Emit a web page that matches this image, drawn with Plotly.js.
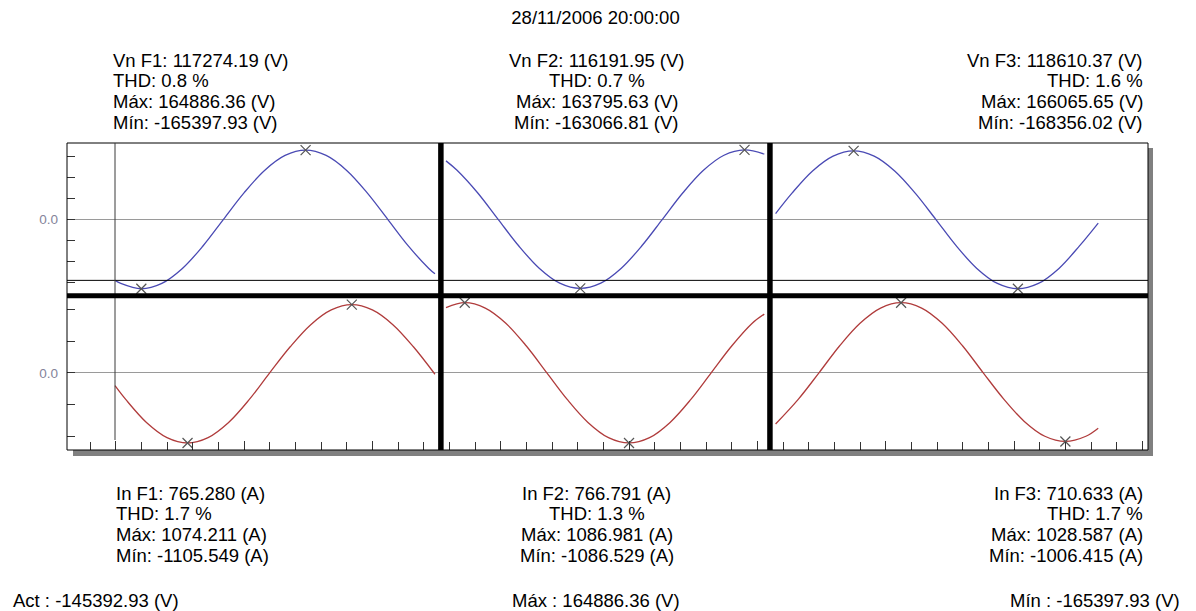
<!DOCTYPE html>
<html>
<head>
<meta charset="utf-8">
<script src="https://cdn.plot.ly/plotly-3.0.1.min.js"></script>
<style>
html, body { margin: 0; padding: 0; background: #fff; }
#chart { width: 1196px; height: 611px; }
</style>
</head>
<body>
<div id="chart"></div>
<script>
// Record timestamp and phase names
const stamp = '28/11/2006 20:00:00';
const phases = ['F1', 'F2', 'F3'];

// Voltage summary per phase (V)
const vRms = [117274.19, 116191.95, 118610.37];
const vThd = [0.8, 0.7, 1.6];
const vMax = [164886.36, 163795.63, 166065.65];
const vMin = [-165397.93, -163066.81, -168356.02];

// Current summary per phase (A)
const iRms = [765.280, 766.791, 710.633];
const iThd = [1.7, 1.3, 1.7];
const iMax = [1074.211, 1086.981, 1028.587];
const iMin = [-1105.549, -1086.529, -1006.415];

// Cursor reading on the F1 voltage trace
const cursorValue = -145392.93;

// Waveforms: x = sample number on the shared time base (128 samples per cycle)
const f1Vx = [9.74, 12, 20, 28, 36, 44, 52, 60, 68, 76, 84, 92, 100, 108, 116, 124, 132, 134.4];
const f1Vy = [-145392.93, -152800, -165397.93, -152600, -117000, -63500, 0, 63000, 116500, 152300, 164886.36, 152300, 116600, 63100, 0, -63300, -117000, -129900];
const f1Ix = [9.74, 14, 22, 30, 38, 46, 54, 62, 70, 78, 86, 94, 102, 110, 118, 126, 134.4];
const f1Iy = [-202, -423, -782, -1021, -1105.549, -1021, -782, -423, 0, 411, 760, 992, 1074.211, 992, 760, 411, -22];

const f2Vx = [138.7, 143, 151, 159, 167, 175, 183, 191, 199, 207, 215, 223, 231, 239, 247, 255, 262.7];
const f2Vy = [138000, 115800, 62700, 0, -62400, -115300, -150700, -163066.81, -150700, -115300, -62400, 0, 62700, 115800, 151300, 163795.63, 154000];
const f2Ix = [138.7, 146, 154, 162, 170, 178, 186, 194, 202, 210, 218, 226, 234, 242, 250, 258, 262.7];
const f2Iy = [1010, 1086.981, 1004, 769, 416, 0, -416, -768, -1004, -1086.529, -1004, -768, -416, 0, 416, 769, 910];

const f3Vx = [267.1, 273.5, 281.5, 289.5, 297.5, 305.5, 313.5, 321.5, 329.5, 337.5, 345.5, 353.5, 361.5, 369.5, 377.5, 385.5, 392.8];
const f3Vy = [14000, 63600, 117400, 153400, 166065.65, 153400, 117400, 63600, 0, -64400, -119000, -155500, -168356.02, -155500, -119000, -64400, -9000];
const f3Ix = [267.1, 276, 284, 292, 300, 308, 316, 324, 332, 340, 348, 356, 364, 372, 380, 388, 392.8];
const f3Iy = [-750, -385, 0, 394, 727, 950, 1028.587, 950, 727, 394, 0, -385, -712, -930, -1006.415, -930, -812];

// Column boundaries on the shared time base
const colEdges = [136.7, 264.9];

// ---- page geometry (pixels) ----
const L = 67, T = 143, W = 1081, H = 307;
const px = x => (x - L) / W;
const py = y => (T + H - y) / H;
const split = py(295.7);

const FONT = '"Liberation Sans", Arial, sans-serif';
const TXT = 18.5;
const BLUE = '#4a4ab4', RED = '#b03c3c';

const voltX = [f1Vx, f2Vx, f3Vx], voltY = [f1Vy, f2Vy, f3Vy];
const currX = [f1Ix, f2Ix, f3Ix], currY = [f1Iy, f2Iy, f3Iy];
const vAxes = ['y', 'y2', 'y3'], iAxes = ['y4', 'y5', 'y6'];

const traces = [];
function addWave(xs, ys, yaxis, color) {
  traces.push({
    type: 'scatter', mode: 'lines', x: xs, y: ys, xaxis: 'x', yaxis: yaxis,
    line: { color: color, width: 1.3, shape: 'spline', smoothing: 1 },
    hoverinfo: 'skip'
  });
  // cross marks on the extreme samples
  let iMaxIdx = 0, iMinIdx = 0;
  ys.forEach((v, k) => { if (v > ys[iMaxIdx]) iMaxIdx = k; if (v < ys[iMinIdx]) iMinIdx = k; });
  traces.push({
    type: 'scatter', mode: 'markers',
    x: [xs[iMaxIdx], xs[iMinIdx]], y: [ys[iMaxIdx], ys[iMinIdx]],
    xaxis: 'x', yaxis: yaxis,
    marker: { symbol: 'x-thin', size: 10, color: '#555', line: { width: 1.2, color: '#555' } },
    hoverinfo: 'skip'
  });
}
for (let p = 0; p < 3; p++) {
  addWave(voltX[p], voltY[p], vAxes[p], BLUE);
  addWave(currX[p], currY[p], iAxes[p], RED);
}

// each phase column is scaled to its own peak
const vRange = vMax.map((m, p) => 1.1 * Math.max(Math.abs(m), Math.abs(vMin[p])));
const iRange = iMax.map((m, p) => 1.1 * Math.max(Math.abs(m), Math.abs(iMin[p])));

const tickStyle = {
  ticks: 'inside', ticklen: 8, tickwidth: 1, tickcolor: '#333',
  showgrid: false, showline: false,
  zeroline: true, zerolinecolor: '#9a9a9a', zerolinewidth: 1,
  tickfont: { family: FONT, size: 13.5, color: '#84849a' },
  ticklabelstandoff: 8, fixedrange: true
};

const layout = {
  width: 1196, height: 611,
  margin: { l: L, r: 1196 - L - W, t: T, b: 611 - T - H, pad: 0 },
  paper_bgcolor: '#fff', plot_bgcolor: '#fff',
  showlegend: false,
  font: { family: FONT, size: TXT, color: '#000' },
  title: {
    text: stamp, xref: 'container', yref: 'container',
    x: 595.5 / 1196, xanchor: 'center', y: 1 - 17.2 / 611, yanchor: 'middle',
    font: { family: FONT, size: TXT, color: '#000' }
  },
  xaxis: {
    domain: [0, 1], anchor: 'y4', range: [-8.96, 412.19],
    showgrid: false, zeroline: false, showline: false, showticklabels: false,
    ticks: 'inside', tickmode: 'linear', tick0: 10, dtick: 50,
    ticklen: 9, tickwidth: 1, tickcolor: '#333',
    minor: { ticks: 'inside', tickmode: 'linear', tick0: 0, dtick: 10, ticklen: 8, tickwidth: 1, tickcolor: '#333', showgrid: false },
    fixedrange: true
  },
  yaxis: Object.assign({
    domain: [split, 1], anchor: 'x', range: [-vRange[0], vRange[0]],
    tickmode: 'array',
    tickvals: [-150000, -100000, -50000, 0, 50000, 100000, 150000],
    ticktext: ['', '', '', '0.0', '', '', '']
  }, tickStyle),
  yaxis2: { overlaying: 'y', anchor: 'x', range: [-vRange[1], vRange[1]], visible: false, fixedrange: true },
  yaxis3: { overlaying: 'y', anchor: 'x', range: [-vRange[2], vRange[2]], visible: false, fixedrange: true },
  yaxis4: Object.assign({
    domain: [0, split], anchor: 'x', range: [-iRange[0], iRange[0]],
    tickmode: 'array',
    tickvals: [-1000, -500, 0, 500, 1000],
    ticktext: ['', '', '0.0', '', '']
  }, tickStyle),
  yaxis5: { overlaying: 'y4', anchor: 'x', range: [-iRange[1], iRange[1]], visible: false, fixedrange: true },
  yaxis6: { overlaying: 'y4', anchor: 'x', range: [-iRange[2], iRange[2]], visible: false, fixedrange: true },
  shapes: [],
  annotations: []
};

// drop shadow and frame
layout.shapes.push(
  { type: 'rect', xref: 'paper', yref: 'paper', x0: px(73), x1: px(1153), y0: py(456), y1: py(450), fillcolor: '#808080', line: { width: 0 }, layer: 'below' },
  { type: 'rect', xref: 'paper', yref: 'paper', x0: px(1148), x1: px(1153), y0: py(456), y1: py(148), fillcolor: '#808080', line: { width: 0 }, layer: 'below' },
  { type: 'rect', xref: 'paper', yref: 'paper', x0: 0, x1: 1, y0: 0, y1: 1, line: { color: '#000', width: 1 }, layer: 'above' }
);
// cursor lines
layout.shapes.push(
  { type: 'line', xref: 'paper', yref: 'y', x0: 0, x1: 1, y0: cursorValue, y1: cursorValue, line: { color: '#000', width: 1 } },
  { type: 'line', xref: 'x', yref: 'paper', x0: f1Vx[0], x1: f1Vx[0], y0: py(440), y1: 1, line: { color: '#3a3a3a', width: 1 } }
);
// separators between voltage/current rows and phase columns
layout.shapes.push(
  { type: 'line', xref: 'paper', yref: 'paper', x0: 0, x1: 1, y0: split, y1: split, line: { color: '#000', width: 5 } }
);
colEdges.forEach(e => layout.shapes.push(
  { type: 'line', xref: 'x', yref: 'paper', x0: e, x1: e, y0: 0, y1: 1, line: { color: '#000', width: 5.5 } }
));

// summary text blocks
const colAnchor = [{ x: 111, a: 'left' }, { x: 596.5, a: 'center' }, { x: 1144.5, a: 'right' }];
const topRows = [60, 80.7, 101.4, 122.1];
const botRows = [493.2, 513.9, 534.6, 555.3];
function addText(text, x, y, anchor) {
  layout.annotations.push({
    text: text, xref: 'paper', yref: 'paper', x: px(x), y: py(y),
    xanchor: anchor, yanchor: 'middle', showarrow: false,
    font: { family: FONT, size: TXT, color: '#000' }
  });
}
phases.forEach((ph, p) => {
  const top = [
    `Vn ${ph}: ${vRms[p].toFixed(2)} (V)`,
    `THD: ${vThd[p].toFixed(1)} %`,
    `Máx: ${vMax[p].toFixed(2)} (V)`,
    `Mín: ${vMin[p].toFixed(2)} (V)`
  ];
  const bot = [
    `In ${ph}: ${iRms[p].toFixed(3)} (A)`,
    `THD: ${iThd[p].toFixed(1)} %`,
    `Máx: ${iMax[p].toFixed(3)} (A)`,
    `Mín: ${iMin[p].toFixed(3)} (A)`
  ];
  top.forEach((t, r) => addText(t, colAnchor[p].x, topRows[r], colAnchor[p].a));
  bot.forEach((t, r) => addText(t, colAnchor[p].x + (p === 0 ? 3 : 0), botRows[r], colAnchor[p].a));
});
addText(`Act : ${cursorValue.toFixed(2)} (V)`, 11, 600, 'left');
addText(`Máx : ${vMax[0].toFixed(2)} (V)`, 596, 600, 'center');
addText(`Mín : ${vMin[0].toFixed(2)} (V)`, 1182, 600, 'right');

Plotly.newPlot('chart', traces, layout, { staticPlot: true, displayModeBar: false });
</script>
</body>
</html>
